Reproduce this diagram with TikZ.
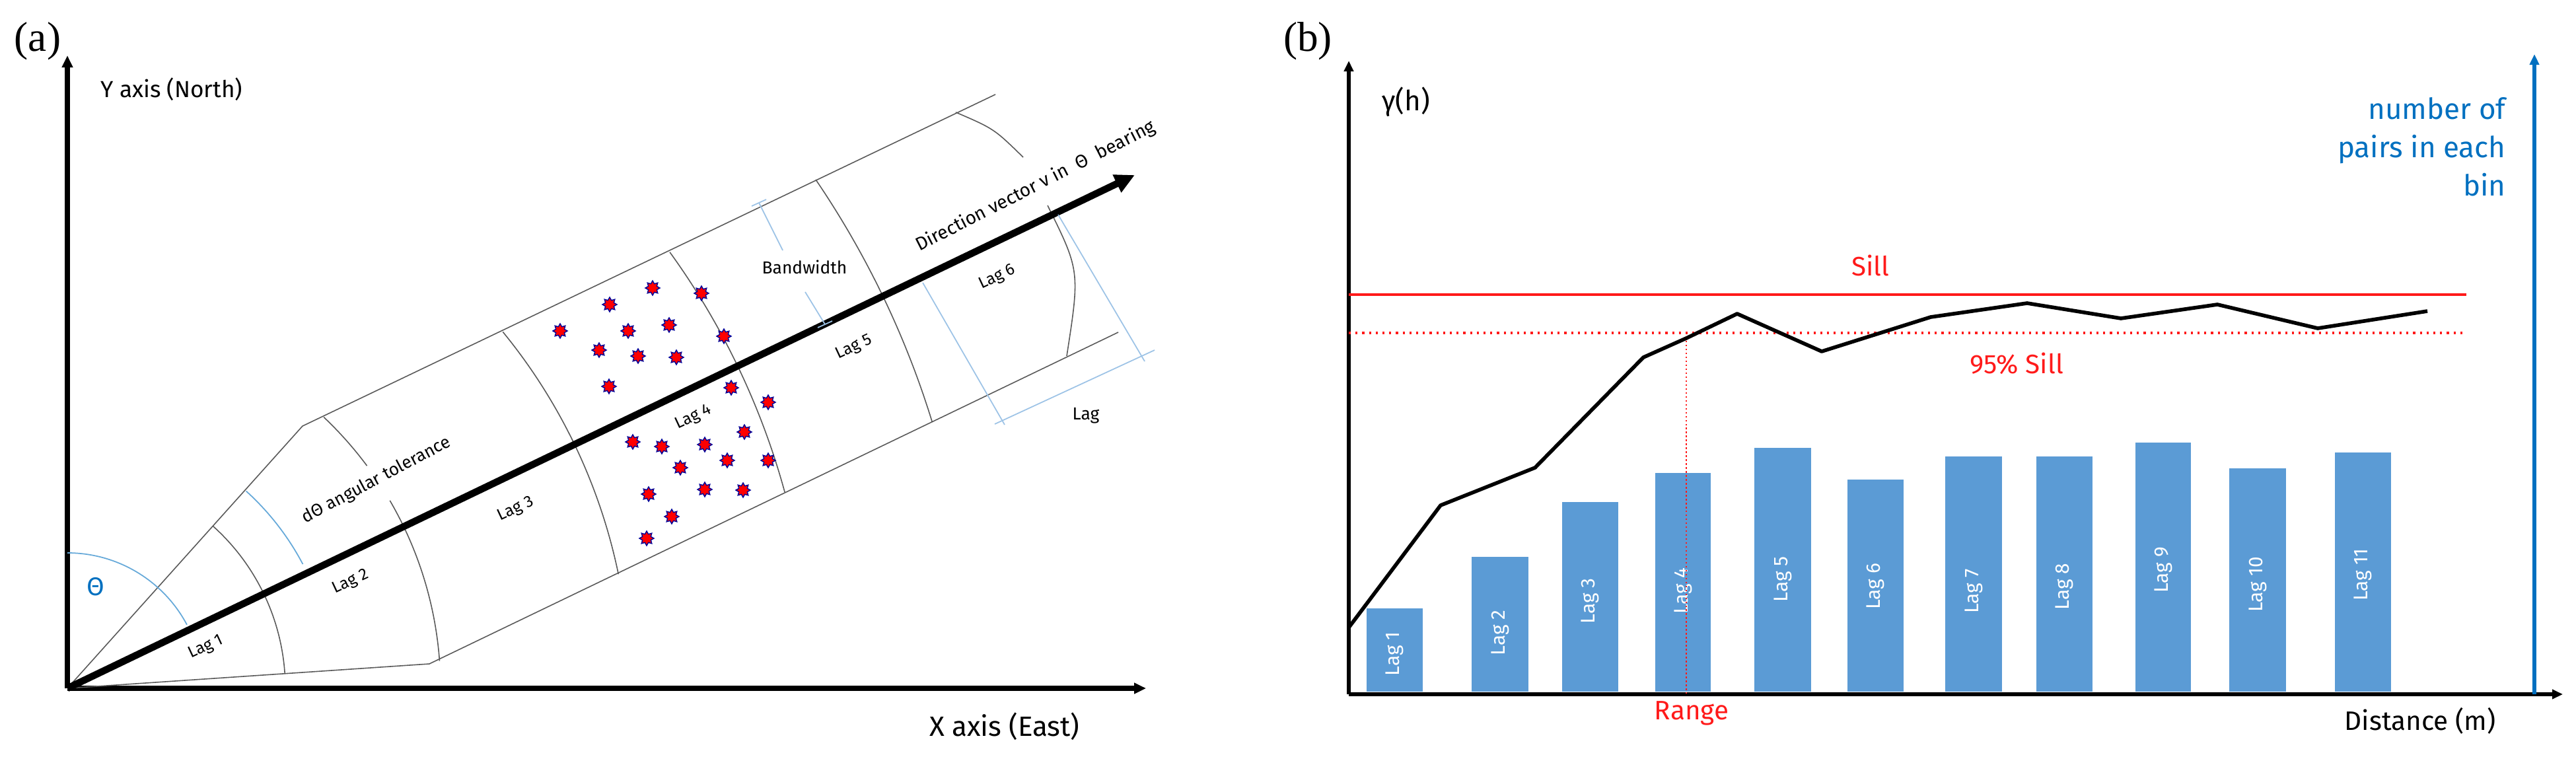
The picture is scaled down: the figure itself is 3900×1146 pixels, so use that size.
\documentclass[tikz,border=0pt]{standalone}
\usepackage{fontspec}
\setmainfont{Fira Sans}
\newfontfamily\serifpanel{Liberation Serif}
\usetikzlibrary{shapes.geometric,arrows.meta}
\definecolor{barblue}{HTML}{5B9BD5}
\definecolor{axblue}{HTML}{0070C0}
\definecolor{lblue}{HTML}{9DC3E6}
\definecolor{sred}{HTML}{FF1A1A}
\tikzset{
  fs/.style={font=\fontsize{#1}{#1}\selectfont},
  thin line/.style={draw=black!65, line width=0.45pt},
  dimline/.style={draw=lblue, line width=0.5pt},
  dot/.style={star, star points=8, star point ratio=1.6, fill=red, draw=blue!60!black, line width=0.4pt, minimum size=0.22cm, inner sep=0pt},
  bar/.style={fill=barblue, draw=none},
  barlab/.style={fs=8.5, text=white, rotate=90},
  lag/.style={fs=7, rotate=25}
}
\begin{document}
\begin{tikzpicture}[x=0.01cm, y=-0.01cm]
\useasboundingbox (0,0) rectangle (3900,1146);
% ---------------- panel (a) ----------------
\node[font=\serifpanel\fontsize{18}{18}\selectfont] (la) at (57,62) {(a)};
\coordinate (O) at (102,1042);
\coordinate (Ytop) at (102,84);
\coordinate (Xend) at (1735,1042);
\draw[line width=2pt, -{Triangle[length=0.18cm,width=0.16cm]}] (O) -- (Ytop);
\draw[line width=2pt, -{Triangle[length=0.18cm,width=0.16cm]}] (O) -- (Xend);
\node[fs=10, anchor=west] (ylab) at (140,135) {Y axis (North)};
\node[fs=12] (xlab) at (1521,1100) {X axis (East)};
% tube
\coordinate (cu) at (458,645);
\coordinate (cl) at (650,1005);
\coordinate (uend) at (1507,143);
\coordinate (lend) at (1693,503);
\draw[thin line] (O) -- (cu) -- (uend);
\draw[thin line] (O) -- (cl) -- (lend);
% lag arcs
\draw[thin line] (O) ++(-48.1:330) arc[start angle=-48.1, end angle=-3.9, radius=330];
\draw[thin line] (O) ++(-46.6:565) arc[start angle=-46.6, end angle=-36.6, radius=565];
\draw[thin line] (O) ++(-30.2:565) arc[start angle=-30.2, end angle=-4.2, radius=565];
\draw[thin line] (O) ++(-39.3:852) arc[start angle=-39.3, end angle=-11.7, radius=852];
\draw[thin line] (O) ++(-35.9:1126) arc[start angle=-35.9, end angle=-15.3, radius=1126];
\draw[thin line] (O) ++(-34.2:1370) arc[start angle=-34.2, end angle=-17.1, radius=1370];
\coordinate (a6a) at (1447,170); \coordinate (a6b) at (1549,238);
\coordinate (a6c) at (1586,311); \coordinate (a6d) at (1615,539);
\draw[thin line] (a6a) .. controls (1505,195) .. (a6b);
\draw[thin line] (a6c) .. controls (1635,410) .. (a6d);
% angle arcs
\draw[draw=axblue!60, line width=0.5pt] (O) ++(-90:205) arc[start angle=-90, end angle=-28, radius=205];
\draw[draw=axblue!60, line width=0.5pt] (O) ++(-47.8:403) arc[start angle=-47.8, end angle=-27.8, radius=403];
\node[fs=11, text=axblue] (theta) at (145,888) {Θ};
% main arrow
\coordinate (V) at (1718,265);
\draw[line width=3pt, -{Triangle[length=0.3cm,width=0.28cm]}] (O) -- (V);
% labels
\node[lag] (l1) at (312,980) {Lag 1};
\node[lag] (l2) at (531,881) {Lag 2};
\node[lag] (l3) at (781,771) {Lag 3};
\node[lag] (l4) at (1050,632) {Lag 4};
\node[lag] (l5) at (1293,526) {Lag 5};
\node[lag] (l6) at (1510,420) {Lag 6};
\node[fs=7.5, rotate=28] (dth) at (570,727) {dΘ angular tolerance};
\node[fs=8, rotate=27] (dir) at (1568,282) {Direction vector v in \ Θ \ bearing};
\node[fs=7.5] (bw) at (1218,404) {Bandwidth};
\node[fs=7.5] (lg) at (1644,629) {Lag};
% bandwidth dimension
\coordinate (b1) at (1149,307); \coordinate (b2) at (1249,491);
\draw[dimline] (b1) -- (1185,379);
\draw[dimline] (1219,442) -- (b2);
\draw[dimline] (1138,312) -- (1160,302);
\draw[dimline] (1238,496) -- (1260,486);
% lag dimension
\draw[dimline] (1397,428) -- (1521,643);
\draw[dimline] (1602,325) -- (1733,547);
\draw[dimline] (1506,642) -- (1748,530);
% stars
\foreach \p [count=\i] in {(988,436),(1062,444),(923,461),(951,501),(1013,492),(1096,509),(907,530),(966,539),(1024,541),(922,585),(1107,587),(1163,609),(958,669),(1002,676),(1067,673),(1127,654),(1030,708),(1101,697),(1163,697),(982,748),(1067,741),(1125,742),(1017,782),(979,815),(848,501)}
  \node[dot] (s\i) at \p {};
% ---------------- panel (b) ----------------
\node[font=\serifpanel\fontsize{18}{18}\selectfont] (lb) at (1980,62) {(b)};
\coordinate (O2) at (2042,1051);
\coordinate (Y2) at (2042,92);
\coordinate (X2) at (3880,1051);
% bars
\foreach \xa/\xb/\top/\ly/\n in {2069/2154/921/990/1,2228/2314/843/958/2,2365/2450/760/910/3,2506/2590/716/895/4,2656/2742/678/877/5,2797/2882/726/888/6,2945/3031/691/895/7,3083/3168/691/888/8,3233/3317/670/863/9,3375/3461/709/885/10,3535/3620/685/870/11}{
  \fill[bar] (\xa,1047) rectangle (\xb,\top);
  \node[barlab] (bl\n) at ({(\xa+\xb)/2},\ly) {Lag \n};
}
\draw[line width=1.6pt, -{Triangle[length=0.16cm,width=0.14cm]}] (O2) -- (Y2);
\draw[line width=1.6pt, -{Triangle[length=0.16cm,width=0.14cm]}] (O2) -- (X2);
\coordinate (B0) at (3837,1051);
\coordinate (B1) at (3837,82);
\draw[axblue, line width=1.6pt, -{Triangle[length=0.16cm,width=0.14cm]}] (B0) -- (B1);
\node[fs=12, anchor=west] (gam) at (2080,154) {γ(h)};
\node[font=\fontsize{12.5}{16.5}\selectfont, text=axblue, align=right, anchor=north east] (npairs) at (3806,135) {number of\\pairs in each\\bin};
% sill lines
\coordinate (s0) at (2042,446); \coordinate (s1) at (3734,446);
\coordinate (p0) at (2042,504); \coordinate (p1) at (3734,504);
\draw[sred, line width=0.9pt] (s0) -- (s1);
\draw[sred, line width=0.9pt, dotted] (p0) -- (p1);
\coordinate (r0) at (2553,504); \coordinate (r1) at (2553,1051);
\draw[sred, line width=0.7pt, densely dotted] (r0) -- (r1);
\node[fs=11.5, text=sred] (sill) at (2832,402) {Sill};
\node[fs=11.5, text=sred] (sill95) at (3053,550) {95\% Sill};
\node[fs=11.5, text=sred] (range) at (2561,1080) {Range};
\node[fs=11.5] (dist) at (3664,1091) {Distance (m)};
% variogram
\draw[line width=1.6pt, line join=round] (2042,950) -- (2181,765) -- (2324,708) -- (2488,541) -- (2553,512) -- (2630,475) -- (2758,532) -- (2923,480) -- (3069,459) -- (3211,482) -- (3357,461) -- (3509,497) -- (3675,471);
\end{tikzpicture}
\end{document}
